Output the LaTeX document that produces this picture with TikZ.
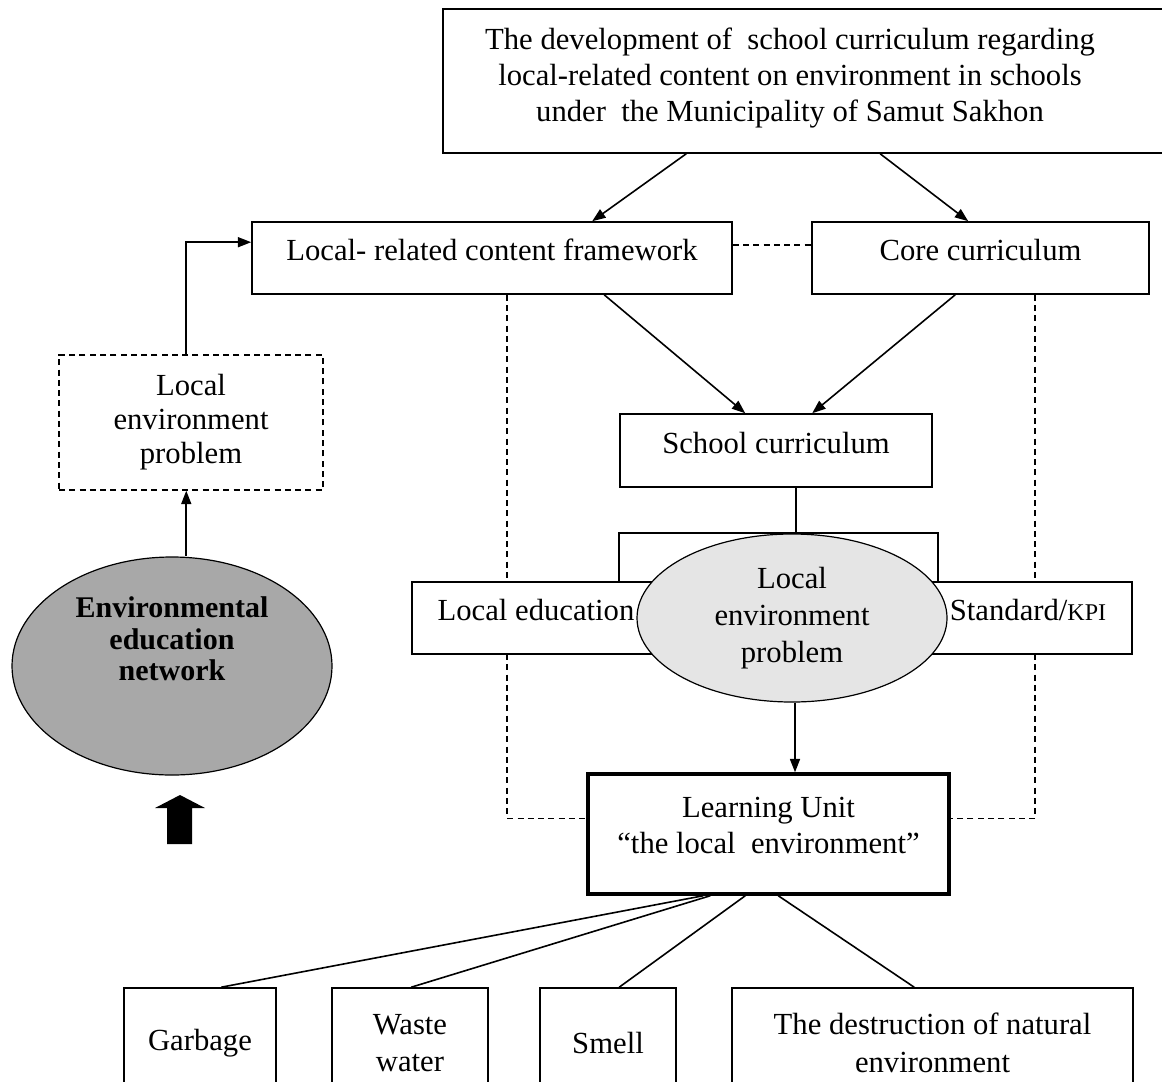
\documentclass[tikz,border=0pt]{standalone}
\usepackage{fontspec}
\setmainfont{Liberation Serif}
\usetikzlibrary{arrows.meta,calc,shapes.geometric}
\pgfdeclarelayer{background}
\pgfsetlayers{background,main}
\begin{document}
\begin{tikzpicture}[x=0.75pt,y=-0.75pt,
  every node/.style={font=\fontsize{23}{27}\selectfont},
  sz/.style 2 args={minimum width=#1*0.75pt,minimum height=#2*0.75pt},
  box/.style={draw,fill=white,line width=1.2pt,rectangle,inner sep=0pt,align=center},
  onel/.style={text height=0.69em,text depth=0.3em},
  txt/.style={inner sep=0pt,align=center},
  arr/.style={line width=1.2pt,-{Triangle[length=10pt,width=7.5pt]}},
  ln/.style={line width=1.2pt},
  dsh/.style={line width=1.1pt,dash pattern=on 4.5pt off 3.2pt}]
\clip (0,0) rectangle (1162,1081);

% top box
\node[box,sz={727}{144}] (top) at (806.5,81) {};
\node[txt] (toptext) at (790,78) {The development of\ \ school curriculum regarding\\
  local-related content on environment in schools\\
  under\ \ the Municipality of Samut Sakhon};

% second row
\node[box,onel,sz={480}{72}] (frame) at (492,258) {Local- related content framework};
\node[box,onel,sz={337}{72}] (core) at (980.5,258) {Core curriculum};

% school curriculum
\node[box,onel,sz={312}{73}] (school) at (776,450.5) {School curriculum};

% local education / standard
\node[box,onel,sz={248}{72}] (localed) at (536,618) {Local education};
\node[box,onel,sz={208}{72}] (stdkpi) at (1028,618) {Standard/{\fontsize{18}{20}\selectfont KPI}};

% bracket from school curriculum
\draw[ln] ($(localed.north west)+(208,0)$) |- ($(stdkpi.north west)+(15,-48)$) -- ($(stdkpi.north west)+(15,0)$);
\draw[ln] ($(school.south)+(20,0)$) -- ++(0,47);

% light ellipse
\node[ellipse,draw,fill=black!10,line width=0.9pt,sz={310}{168},inner sep=0pt,align=center,
  font=\fontsize{23}{28}\selectfont] (ell) at (792,618) {Local\\environment\\problem};

% learning unit
\node[box,line width=2.6pt,sz={361}{120}] (learn) at (768.5,834) {};
\node[txt,font=\fontsize{23}{27}\selectfont] (learntext) at (768.5,825) {Learning Unit\\``the local\ \ environment''};

% bottom boxes
\node[box,sz={152}{110}] (garb) at (200,1043) {Garbage};
\node[box,sz={156}{110},font=\fontsize{23}{28}\selectfont] (waste) at (410,1043) {Waste\\water};
\node[box,sz={136}{110}] (smell) at (608,1043) {Smell};
\node[box,sz={401}{110},font=\fontsize{23}{29}\selectfont] (destr) at (932.5,1043) {The destruction of natural\\environment};

% left side
\node[box,dsh,sz={264}{135},font=\fontsize{23}{25.5}\selectfont] (ldash) at (191,422.5) {Local\\environment\\problem};
\node[ellipse,draw,fill=black!34,line width=0.9pt,sz={320}{218},inner sep=0pt] (netw) at (172,666) {};
\node[txt,font=\bfseries\fontsize{22.5}{23.5}\selectfont] (netwtext) at (172,639) {Environmental\\education\\network};
\fill (180,795) -- (205,808) -- (192,808) -- (192,844) -- (167,844) -- (167,808) -- (155,808) -- cycle;

% connectors
\draw[arr] ($(top.south west)+(244,0)$) -- ($(frame.north west)+(341,0)$);
\draw[arr] ($(top.south west)+(438,0)$) -- ($(core.north west)+(157,0)$);
\draw[arr] ($(frame.south west)+(353,0)$) -- ($(school.north west)+(126,0)$);
\draw[arr] ($(core.south west)+(144,0)$) -- ($(school.north west)+(193,0)$);
\draw[dsh] ($(frame.north east)+(0,24)$) -- ($(core.north west)+(0,24)$);
\begin{pgfonlayer}{background}
\fill[white] (0,0) rectangle (1162,1081);
\draw[dsh] ($(frame.south west)+(256,0)$) |- ($(learn.north west)+(0,46)$);
\draw[dsh] ($(core.south west)+(224,0)$) |- ($(learn.north east)+(0,46)$);
\end{pgfonlayer}
\coordinate (ellb) at ($(ell.south)+(3,0)$);
\draw[arr] (ellb) -- (ellb |- learn.north);

\draw[ln] ($(learn.south west)+(117,0)$) -- ($(garb.north west)+(98,0)$);
\draw[ln] ($(learn.south west)+(124,0)$) -- ($(waste.north west)+(80,0)$);
\draw[ln] ($(learn.south west)+(159,0)$) -- ($(smell.north west)+(80,0)$);
\draw[ln] ($(learn.south west)+(192,0)$) -- ($(destr.north west)+(183,0)$);

\coordinate (ldb) at ($(ldash.south west)+(128,0)$);
\draw[arr] (netw.north -| ldb) -- (ldb);
\draw[arr] ($(ldash.north west)+(128,0)$) |- ($(frame.north west)+(0,21)$);
\end{tikzpicture}
\end{document}
